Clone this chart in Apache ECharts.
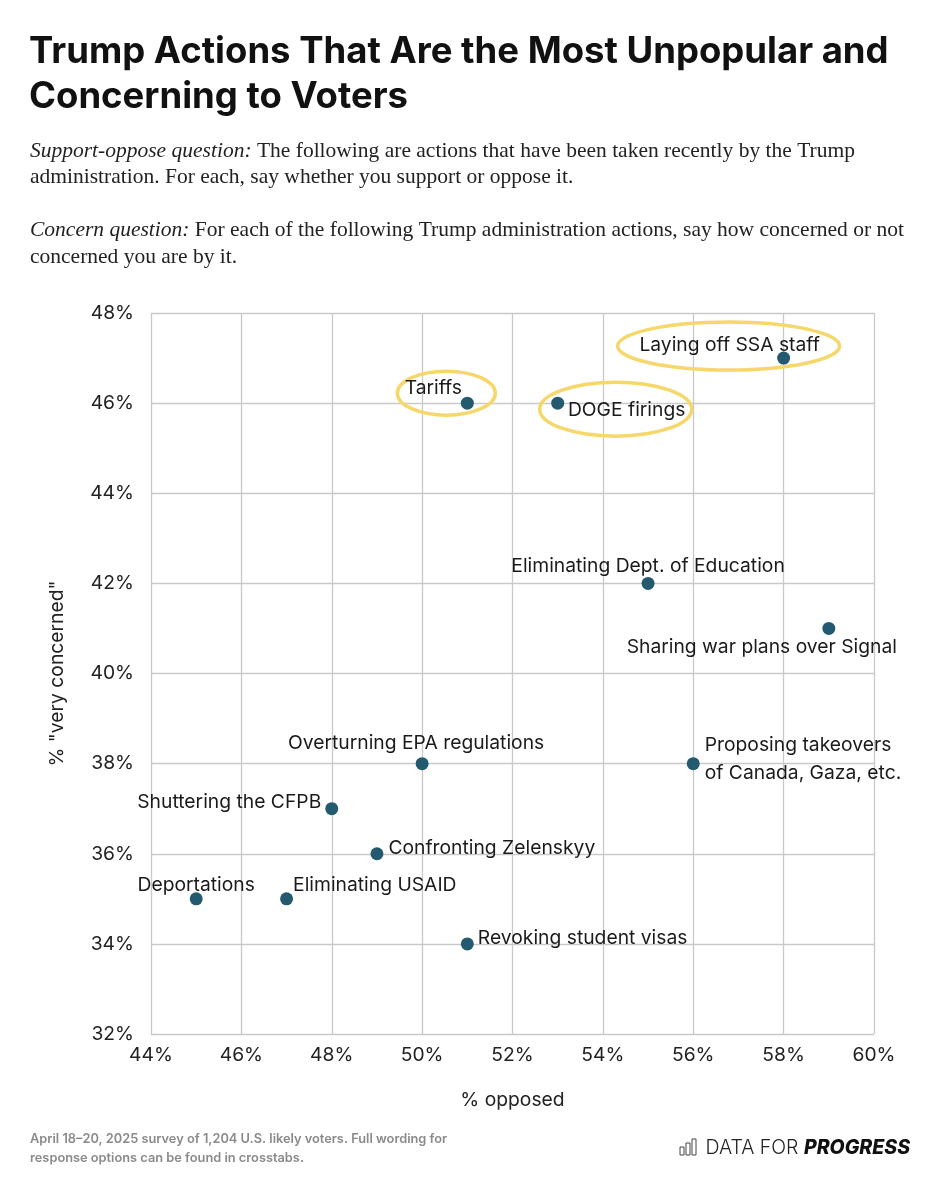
<!DOCTYPE html>
<html>
<head>
<meta charset="utf-8">
<script src="https://cdn.jsdelivr.net/npm/echarts@6/dist/echarts.min.js"></script>
<style>
  html, body { margin: 0; padding: 0; background: #fff; }
  #chart { width: 948px; height: 1200px; }
</style>
</head>
<body>
<div id="chart"></div>
<script>
// ---- Data ----
const actions = [
  "Laying off SSA staff",
  "Tariffs",
  "DOGE firings",
  "Eliminating Dept. of Education",
  "Sharing war plans over Signal",
  "Proposing takeovers\nof Canada, Gaza, etc.",
  "Overturning EPA regulations",
  "Shuttering the CFPB",
  "Confronting Zelenskyy",
  "Deportations",
  "Eliminating USAID",
  "Revoking student visas"
];
const pctOpposed = [58, 51, 53, 55, 59, 56, 50, 48, 49, 45, 47, 51];
const pctVeryConcerned = [47, 46, 46, 42, 41, 38, 38, 37, 36, 35, 35, 34];
const highlighted = ["Laying off SSA staff", "Tariffs", "DOGE firings"];
const xTicks = [44, 46, 48, 50, 52, 54, 56, 58, 60];
const yTicks = [32, 34, 36, 38, 40, 42, 44, 46, 48];

// ---- Label placement (style only) ----
const labelStyle = {
  "Laying off SSA staff": { position: 'inside', offset: [-54, -13] },
  "Tariffs": { position: 'inside', offset: [-34, -15] },
  "DOGE firings": { position: 'inside', offset: [69, 7] },
  "Eliminating Dept. of Education": { position: 'inside', offset: [0, -17] },
  "Sharing war plans over Signal": { position: 'inside', offset: [-67, 19] },
  "Proposing takeovers\nof Canada, Gaza, etc.": { position: 'right', distance: 5, offset: [0, -4], align: 'left' },
  "Overturning EPA regulations": { position: 'inside', offset: [-6, -20] },
  "Shuttering the CFPB": { position: 'left', distance: 4, offset: [0, -6] },
  "Confronting Zelenskyy": { position: 'right', distance: 5, offset: [0, -6] },
  "Deportations": { position: 'inside', offset: [0, -14] },
  "Eliminating USAID": { position: 'right', distance: 0, offset: [0, -14] },
  "Revoking student visas": { position: 'right', distance: 4, offset: [0, -6] }
};
const ellipseStyle = {
  "Laying off SSA staff": { dx: -55, dy: -12, rx: 111, ry: 24 },
  "Tariffs": { dx: -21, dy: -10, rx: 49, ry: 22 },
  "DOGE firings": { dx: 58, dy: 6, rx: 76, ry: 27 }
};

const FONT = 'Inter, "Open Sans", sans-serif';
const SERIF = '"Liberation Serif", serif';
const scatterData = actions.map((name, i) => {
  const ls = labelStyle[name];
  return {
    name: name,
    value: [pctOpposed[i], pctVeryConcerned[i]],
    label: Object.assign({ show: true }, ls)
  };
});
const ellipseData = highlighted.map(n => {
  const i = actions.indexOf(n);
  return { name: n, value: [pctOpposed[i], pctVeryConcerned[i]] };
});

const chart = echarts.init(document.getElementById('chart'), null, { renderer: 'canvas' });
chart.setOption({
  backgroundColor: '#ffffff',
  animation: false,
  title: [
    {
      text: 'Trump Actions That Are the Most Unpopular and\nConcerning to Voters',
      left: 29, top: 30, padding: 0,
      textStyle: { fontFamily: FONT, fontWeight: 700, fontSize: 36.5, color: '#111', lineHeight: 45 }
    },
    {
      text: '{i|Support-oppose question:} {n|The following are actions that have been taken recently by the Trump}\n{n|administration. For each, say whether you support or oppose it.}\n\n{i|Concern question:} {n|For each of the following Trump administration actions, say how concerned or not}\n{n|concerned you are by it.}',
      left: 30, top: 138, padding: 0,
      textStyle: {
        fontFamily: SERIF, fontWeight: 'normal', fontSize: 21.5, color: '#222', lineHeight: 26.5,
        rich: {
          i: { fontStyle: 'italic', fontWeight: 'normal', fontFamily: SERIF, fontSize: 21.5, color: '#222', lineHeight: 26.5 },
          n: { fontWeight: 'normal', fontFamily: SERIF, fontSize: 21.5, color: '#222', lineHeight: 26.5 }
        }
      }
    },
    {
      text: 'April 18–20, 2025 survey of 1,204 U.S. likely voters. Full wording for\nresponse options can be found in crosstabs.',
      left: 30, top: 1130, padding: 0,
      textStyle: { fontFamily: FONT, fontWeight: 600, fontSize: 12.8, color: '#8a8a8a', lineHeight: 19 }
    },
    {
      text: '{l|DATA FOR }{b|PROGRESS}',
      right: 38, top: 1138, padding: 0,
      textStyle: {
        rich: {
          l: { fontFamily: FONT, fontWeight: 300, fontSize: 19.5, color: '#222' },
          b: { fontFamily: FONT, fontWeight: 800, fontStyle: 'italic', fontSize: 19.5, color: '#111' }
        }
      }
    }
  ],
  graphic: [
    { type: 'rect', shape: { x: 680, y: 1147, width: 4, height: 8 }, style: { fill: 'none', stroke: '#444', lineWidth: 1 } },
    { type: 'rect', shape: { x: 686, y: 1143, width: 4, height: 12 }, style: { fill: 'none', stroke: '#444', lineWidth: 1 } },
    { type: 'rect', shape: { x: 692, y: 1139, width: 4, height: 16 }, style: { fill: 'none', stroke: '#444', lineWidth: 1 } }
  ],
  grid: { left: 151, right: 74, top: 313, bottom: 166, containLabel: false },
  xAxis: {
    type: 'value', min: 44, max: 60, interval: 2,
    name: '% opposed', nameLocation: 'middle', nameGap: 57,
    nameTextStyle: { fontFamily: FONT, fontSize: 19.3, color: '#222' },
    axisLine: { show: false }, axisTick: { show: false },
    axisLabel: { formatter: v => v + '%', fontFamily: FONT, fontSize: 19.3, color: '#222', margin: 12 },
    splitLine: { show: true, lineStyle: { color: '#c9c9c9', width: 1.3 } }
  },
  yAxis: {
    type: 'value', min: 32, max: 48, interval: 2,
    name: '% "very concerned"', nameLocation: 'middle', nameGap: 84, nameRotate: 90,
    nameTextStyle: { fontFamily: FONT, fontSize: 19.3, color: '#222' },
    axisLine: { show: false }, axisTick: { show: false },
    axisLabel: { formatter: v => v + '%', fontFamily: FONT, fontSize: 19.3, color: '#222', margin: 17 },
    splitLine: { show: true, lineStyle: { color: '#c9c9c9', width: 1.3 } }
  },
  series: [
    {
      type: 'custom',
      silent: true,
      z: 1,
      data: ellipseData,
      renderItem: function (params, api) {
        const p = api.coord([api.value(0), api.value(1)]);
        const name = ellipseData[params.dataIndex].name;
        const e = ellipseStyle[name];
        return {
          type: 'ellipse',
          shape: { cx: p[0] + e.dx, cy: p[1] + e.dy, rx: e.rx, ry: e.ry },
          style: { fill: 'none', stroke: '#f6d76b', lineWidth: 3.5 }
        };
      }
    },
    {
      type: 'scatter',
      z: 3,
      symbolSize: 13,
      itemStyle: { color: '#245a70', opacity: 1 },
      label: {
        show: true,
        formatter: p => p.name,
        fontFamily: FONT, fontSize: 19.3, color: '#1a1a1a', lineHeight: 28
      },
      data: scatterData
    }
  ]
});
</script>
</body>
</html>
